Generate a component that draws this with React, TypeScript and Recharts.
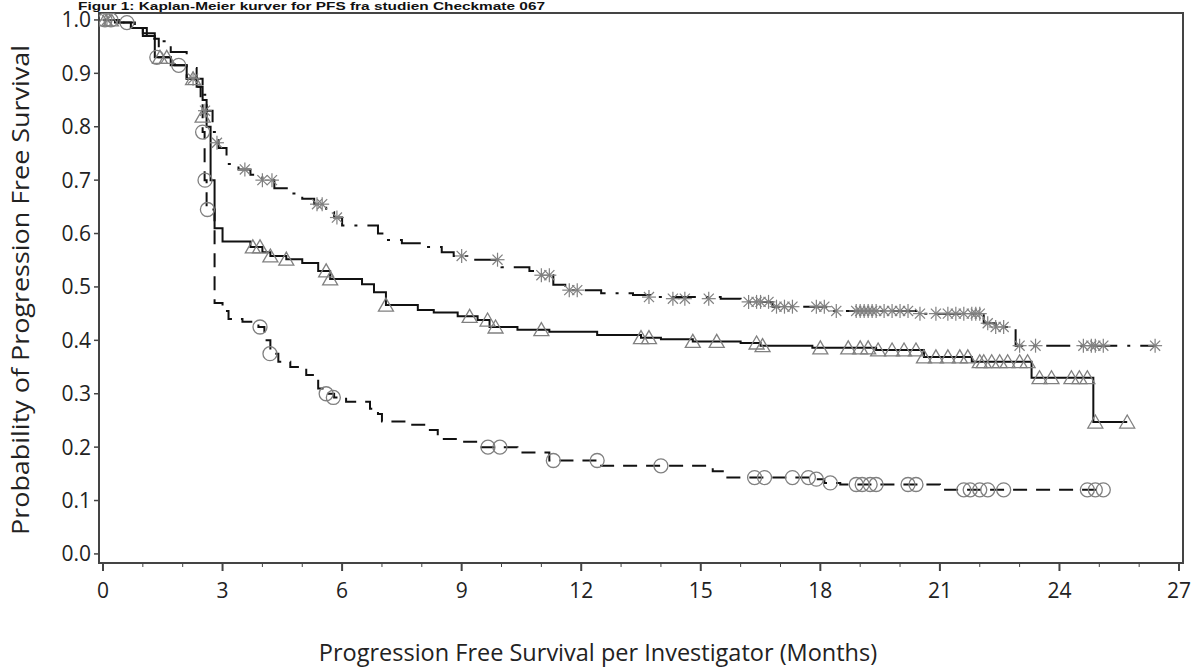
import { ComposedChart, Line, Scatter, XAxis, YAxis, ReferenceArea } from "recharts";

// Kaplan-Meier steps (months, survival probability)
const comboTimes = [0, 0.3, 0.7, 1.0, 1.3, 1.7, 2.1, 2.35, 2.5, 2.6, 2.75, 2.9, 3.1, 3.4, 3.7, 4.0, 4.3, 4.7, 5.0, 5.3, 5.6, 5.8, 6.0, 6.9, 7.1, 7.5, 8.1, 8.5, 8.8, 9.3, 10.0, 10.7, 11.0, 11.3, 11.6, 12.5, 13.3, 13.8, 15.5, 16.0, 16.8, 18.3, 20.5, 22.1, 22.4, 22.9, 26.4];
const comboSurv = [1.0, 0.995, 0.985, 0.975, 0.96, 0.94, 0.91, 0.89, 0.86, 0.83, 0.79, 0.76, 0.73, 0.72, 0.71, 0.7, 0.685, 0.675, 0.665, 0.655, 0.64, 0.63, 0.615, 0.6, 0.588, 0.582, 0.575, 0.565, 0.558, 0.551, 0.537, 0.53, 0.522, 0.504, 0.494, 0.488, 0.485, 0.481, 0.478, 0.472, 0.463, 0.455, 0.45, 0.432, 0.425, 0.39, 0.39];

const nivoTimes = [0, 0.4, 0.7, 1.0, 1.3, 1.7, 2.1, 2.35, 2.5, 2.6, 2.7, 2.8, 3.0, 3.7, 4.0, 4.2, 4.6, 5.0, 5.4, 5.7, 6.5, 6.8, 7.1, 7.9, 8.3, 8.9, 9.4, 9.7, 10.4, 11.2, 12.4, 13.5, 14.0, 14.8, 16.0, 16.5, 17.8, 19.4, 20.6, 21.8, 23.3, 24.85, 25.7];
const nivoSurv = [1.0, 0.995, 0.985, 0.97, 0.93, 0.915, 0.89, 0.875, 0.85, 0.8, 0.7, 0.61, 0.585, 0.575, 0.565, 0.558, 0.552, 0.545, 0.53, 0.515, 0.505, 0.49, 0.466, 0.457, 0.452, 0.445, 0.438, 0.425, 0.42, 0.416, 0.41, 0.405, 0.402, 0.398, 0.395, 0.39, 0.386, 0.382, 0.369, 0.36, 0.33, 0.247, 0.247];

const ipiTimes = [0, 0.5, 0.8, 1.1, 1.4, 1.8, 2.1, 2.35, 2.45, 2.5, 2.55, 2.6, 2.8, 3.0, 3.15, 3.5, 3.9, 4.05, 4.2, 4.4, 4.7, 5.1, 5.4, 5.6, 5.8, 6.1, 6.7, 6.9, 7.0, 7.6, 8.1, 8.4, 8.9, 9.5, 10.4, 11.2, 12.5, 15.3, 15.6, 17.8, 18.1, 18.5, 21.0, 25.1];
const ipiSurv = [1.0, 0.995, 0.985, 0.965, 0.93, 0.915, 0.89, 0.875, 0.85, 0.79, 0.7, 0.645, 0.47, 0.455, 0.44, 0.435, 0.425, 0.4, 0.375, 0.36, 0.35, 0.335, 0.31, 0.3, 0.293, 0.285, 0.272, 0.262, 0.248, 0.242, 0.232, 0.215, 0.21, 0.2, 0.19, 0.175, 0.165, 0.155, 0.143, 0.14, 0.133, 0.13, 0.12, 0.12];

// censored patients
const comboCensorTimes = [0.1, 2.26, 2.56, 2.86, 3.56, 4.0, 4.24, 5.37, 5.5, 5.87, 9.0, 9.9, 11.0, 11.2, 11.7, 11.9, 13.7, 14.3, 14.6, 15.2, 16.2, 16.4, 16.5, 16.7, 16.9, 17.1, 17.3, 17.9, 18.1, 18.4, 18.9, 19.0, 19.1, 19.2, 19.3, 19.4, 19.6, 19.8, 20.0, 20.2, 20.5, 20.9, 21.2, 21.4, 21.6, 21.8, 21.9, 22.0, 22.2, 22.4, 22.6, 23.0, 23.4, 24.6, 24.8, 24.9, 25.1, 26.4];
const comboCensorSurv = [1.0, 0.89, 0.83, 0.77, 0.72, 0.7, 0.7, 0.655, 0.655, 0.63, 0.558, 0.551, 0.522, 0.522, 0.494, 0.494, 0.481, 0.478, 0.478, 0.478, 0.472, 0.472, 0.472, 0.472, 0.463, 0.463, 0.463, 0.463, 0.463, 0.455, 0.455, 0.455, 0.455, 0.455, 0.455, 0.455, 0.455, 0.455, 0.455, 0.455, 0.45, 0.45, 0.45, 0.45, 0.45, 0.45, 0.45, 0.45, 0.432, 0.425, 0.425, 0.39, 0.39, 0.39, 0.39, 0.39, 0.39, 0.39];

const nivoCensorTimes = [0.05, 0.2, 1.43, 1.6, 2.26, 2.5, 3.76, 3.94, 4.2, 4.6, 5.6, 5.7, 7.1, 9.2, 9.65, 9.85, 11.0, 13.5, 13.7, 14.8, 15.4, 16.4, 16.55, 18.0, 18.7, 19.0, 19.2, 19.45, 19.8, 20.1, 20.4, 20.6, 20.9, 21.2, 21.5, 21.7, 22.0, 22.1, 22.3, 22.5, 22.7, 23.0, 23.2, 23.5, 23.8, 24.3, 24.5, 24.7, 24.9, 25.7];
const nivoCensorSurv = [1.0, 1.0, 0.93, 0.93, 0.89, 0.82, 0.575, 0.575, 0.558, 0.552, 0.53, 0.515, 0.466, 0.445, 0.438, 0.425, 0.42, 0.405, 0.405, 0.398, 0.398, 0.395, 0.39, 0.386, 0.386, 0.386, 0.386, 0.382, 0.382, 0.382, 0.382, 0.369, 0.369, 0.369, 0.369, 0.369, 0.36, 0.36, 0.36, 0.36, 0.36, 0.36, 0.36, 0.33, 0.33, 0.33, 0.33, 0.33, 0.247, 0.247];

const ipiCensorTimes = [0.05, 0.2, 0.6, 1.35, 1.9, 2.5, 2.56, 2.62, 3.94, 4.19, 5.6, 5.78, 9.66, 9.96, 11.3, 12.4, 14.0, 16.35, 16.6, 17.3, 17.7, 17.9, 18.25, 18.9, 19.05, 19.25, 19.4, 20.2, 20.4, 21.6, 21.76, 22.0, 22.2, 22.6, 24.7, 24.9, 25.1];
const ipiCensorSurv = [1.0, 1.0, 0.995, 0.93, 0.915, 0.79, 0.7, 0.645, 0.425, 0.375, 0.3, 0.293, 0.2, 0.2, 0.175, 0.175, 0.165, 0.143, 0.143, 0.143, 0.143, 0.14, 0.133, 0.13, 0.13, 0.13, 0.13, 0.13, 0.13, 0.12, 0.12, 0.12, 0.12, 0.12, 0.12, 0.12, 0.12];

const monthTicks = Array.from({ length: 28 }, (_, i) => i);
const probTicks = [0, 0.1, 0.2, 0.3, 0.4, 0.5, 0.6, 0.7, 0.8, 0.9, 1.0];

const toPoints = (ts: number[], ps: number[]) => ts.map((t, i) => ({ t, p: ps[i] }));

const FONT = "'Open Sans', 'DejaVu Sans', sans-serif";
const MARK = "#808080";

const MonthTick = (props: any) => {
  const { x, y, payload } = props;
  const major = payload.value % 3 === 0;
  return (
    <g>
      <line x1={x} x2={x} y1={y} y2={y + (major ? 8 : 4)} stroke="#444" strokeWidth={major ? 2 : 1} />
      {major && (
        <text x={x} y={y + 35} textAnchor="middle" fontSize={21} fontFamily={FONT} fill="#222">
          {payload.value}
        </text>
      )}
    </g>
  );
};

// the x title sits centred on the whole figure, not on the plot
const XTitle = () => (
  <text x={598} y={661} textAnchor="middle" fontSize={23.5} fontFamily={FONT} fill="#222">
    Progression Free Survival per Investigator (Months)
  </text>
);

const YTitle = () => (
  <text
    transform="translate(29 290) rotate(-90)"
    textAnchor="middle"
    fontSize={23}
    fontFamily={FONT}
    fill="#222"
    textLength={490}
    lengthAdjust="spacingAndGlyphs"
  >
    Probability of Progression Free Survival
  </text>
);

const StarMark = ({ cx, cy }: any) => {
  const r = 7;
  const d = r * 0.72;
  return (
    <g stroke={MARK} strokeWidth={1.2}>
      <line x1={cx - r} y1={cy} x2={cx + r} y2={cy} />
      <line x1={cx} y1={cy - r} x2={cx} y2={cy + r} />
      <line x1={cx - d} y1={cy - d} x2={cx + d} y2={cy + d} />
      <line x1={cx - d} y1={cy + d} x2={cx + d} y2={cy - d} />
    </g>
  );
};

const TriangleMark = ({ cx, cy }: any) => (
  <polygon
    points={`${cx - 7.5},${cy + 6} ${cx + 7.5},${cy + 6} ${cx},${cy - 7}`}
    fill="none"
    stroke={MARK}
    strokeWidth={1.3}
  />
);

const CircleMark = ({ cx, cy }: any) => (
  <circle cx={cx} cy={cy} r={7} fill="none" stroke={MARK} strokeWidth={1.3} />
);

const App = () => {
  return (
    <div style={{ position: "absolute", left: 0, top: 0, width: 1194, height: 672, background: "#fff" }}>
      <svg width={700} height={14} style={{ position: "absolute", left: 0, top: 0 }}>
        <text
          x={78}
          y={9.5}
          fontSize={11}
          fontWeight="bold"
          fontFamily="'Liberation Sans', Arial, sans-serif"
          textLength={467}
          lengthAdjust="spacingAndGlyphs"
          fill="#111"
        >
          Figur 1: Kaplan-Meier kurver for PFS fra studien Checkmate 067
        </text>
      </svg>
      <ComposedChart width={1194} height={672} margin={{ top: 13, right: 11, bottom: 49, left: 39 }}>
        <XAxis
          type="number"
          dataKey="t"
          domain={[-0.1, 27.1]}
          ticks={monthTicks}
          interval={0}
          allowDataOverflow
          axisLine={false}
          tickLine={false}
          tickSize={0}
          tickMargin={0}
          height={60}
          tick={<MonthTick />}
          label={<XTitle />}
        />
        <YAxis
          type="number"
          dataKey="p"
          domain={[-0.017, 1.013]}
          ticks={probTicks}
          interval={0}
          allowDataOverflow
          width={60}
          axisLine={false}
          tickSize={5}
          tickMargin={3}
          tickLine={{ stroke: "#444", strokeWidth: 1.5 }}
          tickFormatter={(v: number) => v.toFixed(1)}
          tick={{ fontSize: 21, fontFamily: FONT, fill: "#222" }}
          label={<YTitle />}
        />
        <ReferenceArea x1={-0.1} x2={27.1} y1={-0.017} y2={1.013} fill="none" stroke="#444" strokeWidth={2} />
        <Line
          data={toPoints(ipiTimes, ipiSurv)}
          dataKey="p"
          type="stepAfter"
          stroke="#111"
          strokeWidth={2}
          strokeDasharray="14 9"
          dot={false}
          isAnimationActive={false}
        />
        <Line
          data={toPoints(nivoTimes, nivoSurv)}
          dataKey="p"
          type="stepAfter"
          stroke="#111"
          strokeWidth={2}
          dot={false}
          isAnimationActive={false}
        />
        <Line
          data={toPoints(comboTimes, comboSurv)}
          dataKey="p"
          type="stepAfter"
          stroke="#111"
          strokeWidth={2}
          strokeDasharray="24 10 3 10"
          dot={false}
          isAnimationActive={false}
        />
        <Scatter data={toPoints(ipiCensorTimes, ipiCensorSurv)} dataKey="p" shape={<CircleMark />} isAnimationActive={false} />
        <Scatter data={toPoints(nivoCensorTimes, nivoCensorSurv)} dataKey="p" shape={<TriangleMark />} isAnimationActive={false} />
        <Scatter data={toPoints(comboCensorTimes, comboCensorSurv)} dataKey="p" shape={<StarMark />} isAnimationActive={false} />
      </ComposedChart>
    </div>
  );
};

export default App;
